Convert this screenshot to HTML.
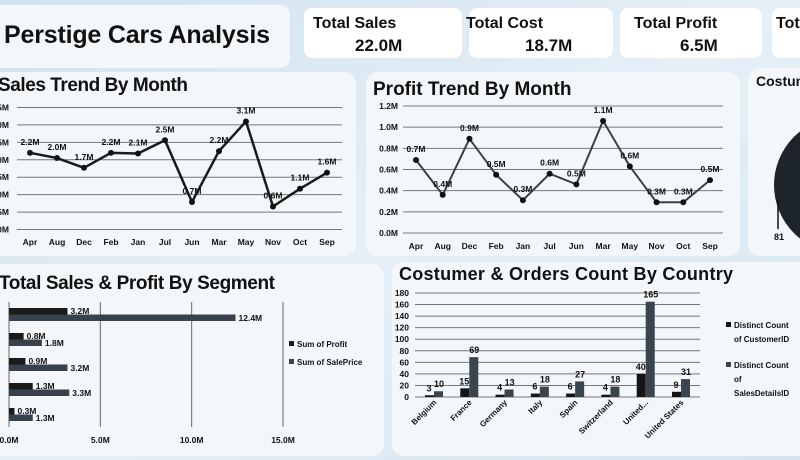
<!DOCTYPE html>
<html><head><meta charset="utf-8">
<style>
html,body{margin:0;padding:0;width:800px;height:460px;overflow:hidden;background:#dde9f3;font-family:"Liberation Sans",sans-serif;}
svg{display:block}
text{font-family:"Liberation Sans",sans-serif;}
</style></head>
<body>
<svg id="dash" width="800" height="460" viewBox="0 0 800 460" xmlns="http://www.w3.org/2000/svg">
<defs>
<linearGradient id="bg" x1="0" y1="0" x2="1" y2="1">
<stop offset="0" stop-color="#cfe2f0"/><stop offset="0.5" stop-color="#e6eff6"/><stop offset="1" stop-color="#d4e5f1"/>
</linearGradient>
</defs>
<rect width="800" height="460" fill="url(#bg)"/>
<rect x="-20" y="5" width="310" height="63" rx="10" fill="#f3f7fa"/>
<text x="4" y="43" font-size="25" font-weight="bold" fill="#111" textLength="266">Perstige Cars Analysis</text>
<g>
<rect x="304" y="8" width="158" height="50" rx="8" fill="#fff"/>
<text x="313" y="28" font-size="16" font-weight="bold" fill="#111">Total Sales</text>
<text x="355" y="51" font-size="17" font-weight="bold" fill="#111">22.0M</text></g>
<g>
<rect x="469" y="8" width="144" height="50" rx="8" fill="#fff"/>
<text x="466" y="28" font-size="16" font-weight="bold" fill="#111">Total Cost</text>
<text x="525" y="51" font-size="17" font-weight="bold" fill="#111">18.7M</text></g>
<g>
<rect x="620" y="8" width="142" height="50" rx="8" fill="#fff"/>
<text x="634" y="28" font-size="16" font-weight="bold" fill="#111">Total Profit</text>
<text x="680" y="51" font-size="17" font-weight="bold" fill="#111">6.5M</text></g>
<g>
<rect x="772" y="8" width="60" height="50" rx="8" fill="#fff"/>
<text x="776" y="28" font-size="16" font-weight="bold" fill="#111">Tot</text></g>
<rect x="-20" y="72" width="376" height="184" rx="12" fill="#f3f7fa"/>
<rect x="366" y="72" width="374" height="184" rx="12" fill="#f3f7fa"/>
<rect x="748" y="68" width="80" height="188" rx="12" fill="#f3f7fa"/>
<rect x="-20" y="264" width="404" height="192" rx="12" fill="#f3f7fa"/>
<rect x="392" y="262" width="420" height="194" rx="12" fill="#f3f7fa"/>
<text x="-2" y="91" font-size="19" font-weight="bold" fill="#111" textLength="190">Sales Trend By Month</text>
<text x="373" y="95" font-size="19" font-weight="bold" fill="#111">Profit Trend By Month</text>
<text x="756" y="86" font-size="14" font-weight="bold" fill="#111">Costum</text>
<circle cx="842" cy="185" r="68" fill="#1e242b"/>
<line x1="778" y1="200" x2="778" y2="229" stroke="#111" stroke-width="1.5"/>
<text x="774" y="240" font-size="9" font-weight="bold" fill="#111">81</text>
<text x="-1" y="289" font-size="19" font-weight="bold" fill="#111" textLength="276">Total Sales &amp; Profit By Segment</text>
<text x="399" y="280" font-size="18" font-weight="bold" fill="#111" textLength="334">Costumer &amp; Orders Count By Country</text>
<g id="g1"></g><g id="g2"></g><g id="g3"></g><g id="g4"></g>
</svg>
<script>
const NS="http://www.w3.org/2000/svg";
function mk(p,tag,a,txt){const e=document.createElementNS(NS,tag);for(const k in a)e.setAttribute(k,a[k]);if(txt!==undefined)e.textContent=txt;p.appendChild(e);return e;}

const months=["Apr","Aug","Dec","Feb","Jan","Jul","Jun","Mar","May","Nov","Oct","Sep"];
const salesVals=[2.2,2.05,1.77,2.2,2.18,2.56,0.79,2.25,3.1,0.66,1.17,1.63];
const salesLabels=["2.2M","2.0M","1.7M","2.2M","2.1M","2.5M","0.7M","2.2M","3.1M","0.6M","1.1M","1.6M"];
const salesTicks=[0,0.5,1,1.5,2,2.5,3,3.5];
const profitVals=[0.69,0.36,0.89,0.55,0.31,0.56,0.46,1.06,0.63,0.29,0.29,0.50];
const profitLabels=["0.7M","0.4M","0.9M","0.5M","0.3M","0.6M","0.5M","1.1M","0.6M","0.3M","0.3M","0.5M"];
const profitTicks=[0,0.2,0.4,0.6,0.8,1.0,1.2];
const segProfit=[3.2,0.8,0.9,1.3,0.3];
const segSales=[12.4,1.8,3.2,3.3,1.3];
const segTicks=[0,5,10,15];
const countries=["Belgium","France","Germany","Italy","Spain","Switzerland","United...","United States"];
const custCount=[3,15,4,6,6,4,40,9];
const orderCount=[10,69,13,18,27,18,165,31];
const countTicks=[0,20,40,60,80,100,120,140,160,180];

function lineChart(g,vals,labels,ticks,o){
  const y=v=>o.y0-(v-ticks[0])/(ticks[ticks.length-1]-ticks[0])*(o.y0-o.y1);
  const x=i=>o.xa+i*(o.xb-o.xa)/(months.length-1);
  ticks.forEach(t=>{const l=mk(g,'line',{x1:o.gx0,x2:o.gx1,y1:y(t),y2:y(t),stroke:'#777','stroke-width':1});
    
    const tx=mk(g,'text',{x:o.lx,y:y(t)+3,'font-size':8.5,'font-weight':'bold','text-anchor':'end',fill:'#111'},t.toFixed(1)+'M');
    });
  const pts=vals.map((v,i)=>x(i)+','+y(v)).join(' ');
  const pl=mk(g,'polyline',{points:pts,fill:'none',stroke:o.col,'stroke-width':o.sw,'stroke-linejoin':'round'});
  
  vals.forEach((v,i)=>{const c=mk(g,'circle',{cx:x(i),cy:y(v),r:3,fill:'#111'});
    
    const t=mk(g,'text',{x:x(i),y:y(v)-8,'font-size':8.5,'font-weight':'bold','text-anchor':'middle',fill:'#111'},labels[i]);
    
    const m=mk(g,'text',{x:x(i),y:o.my,'font-size':8.5,'font-weight':'bold','text-anchor':'middle',fill:'#111'},months[i]);
    });
}
lineChart(document.getElementById('g1'),salesVals,salesLabels,salesTicks,{y0:229.5,y1:107.5,xa:30,xb:327,gx0:17,gx1:342,lx:9,my:245,col:'#1a1a1a',sw:2.5});
lineChart(document.getElementById('g2'),profitVals,profitLabels,profitTicks,{y0:233,y1:106,xa:416,xb:710,gx0:403,gx1:723,lx:398,my:249,col:'#3a4048',sw:2});

(function(){
  const g=document.getElementById('g3');
  const x0=9,px=(283-9)/15;const x=v=>x0+v*px;
  segTicks.forEach(t=>{const l=mk(g,'line',{x1:x(t),x2:x(t),y1:302,y2:427,stroke:'#666','stroke-width':1});
    
    const tx=mk(g,'text',{x:x(t),y:443,'font-size':8.5,'font-weight':'bold','text-anchor':'middle',fill:'#111'},t.toFixed(1)+'M');
    });
  segProfit.forEach((v,i)=>{const yy=308+i*25;
    const b1=mk(g,'rect',{x:x0,y:yy,width:x(v)-x0,height:6.5,fill:'#1b1b1b'});
    
    const b2=mk(g,'rect',{x:x0,y:yy+6.5,width:x(segSales[i])-x0,height:6.5,fill:'#37424d'});
    
    const t1=mk(g,'text',{x:x(v)+3,y:yy+6,'font-size':8.5,'font-weight':'bold',fill:'#111'},v.toFixed(1)+'M');
    
    const t2=mk(g,'text',{x:x(segSales[i])+3,y:yy+13,'font-size':8.5,'font-weight':'bold',fill:'#111'},segSales[i].toFixed(1)+'M');
    });
  const lg=[['Sum of Profit','#1b1b1b',347],['Sum of SalePrice','#37424d',365]];
  lg.forEach(l=>{const r=mk(g,'rect',{x:289,y:l[2]-6,width:5,height:5,fill:l[1]});
    
    const t=mk(g,'text',{x:297,y:l[2],'font-size':8,'font-weight':'bold',fill:'#111'},l[0]);
    });
})();

(function(){
  const g=document.getElementById('g4');
  const y0=397,y1=293;const y=v=>y0-v/180*(y0-y1);
  const cx=i=>435+i*(682-435)/7;
  countTicks.forEach(t=>{const l=mk(g,'line',{x1:415,x2:700,y1:y(t),y2:y(t),stroke:'#777','stroke-width':1});
    
    const tx=mk(g,'text',{x:409,y:y(t)+3,'font-size':8.5,'font-weight':'bold','text-anchor':'end',fill:'#111'},t);
    });
  countries.forEach((c,i)=>{const xc=cx(i);
    const b1=mk(g,'rect',{x:xc-10,y:y(custCount[i]),width:9,height:y0-y(custCount[i]),fill:'#151515'});
    
    const b2=mk(g,'rect',{x:xc-1,y:y(orderCount[i]),width:9,height:y0-y(orderCount[i]),fill:'#3a4550'});
    
    const t1=mk(g,'text',{x:xc-6,y:y(custCount[i])-4,'font-size':9,'font-weight':'bold','text-anchor':'middle',fill:'#111'},custCount[i]);
    
    const t2=mk(g,'text',{x:xc+4,y:y(orderCount[i])-4,'font-size':9,'font-weight':'bold','text-anchor':'middle',fill:'#111'},orderCount[i]);
    
    const lb=mk(g,'text',{x:xc+2,y:403,'font-size':8,'font-weight':'bold','text-anchor':'end',fill:'#111',transform:'rotate(-45 '+(xc+2)+' 403)'},c);
    });
  const lg=[['#151515',[['Distinct Count',328],['of CustomerID',342]]],['#3a4550',[['Distinct Count',368],['of',382],['SalesDetailsID',396]]]];
  lg.forEach(l=>{const r=mk(g,'rect',{x:726,y:l[1][0][1]-6,width:5,height:5,fill:l[0]});
    
    l[1].forEach(s=>{const t=mk(g,'text',{x:734,y:s[1],'font-size':8,'font-weight':'bold',fill:'#111'},s[0]);
      });});
})();
</script>
</body></html>
